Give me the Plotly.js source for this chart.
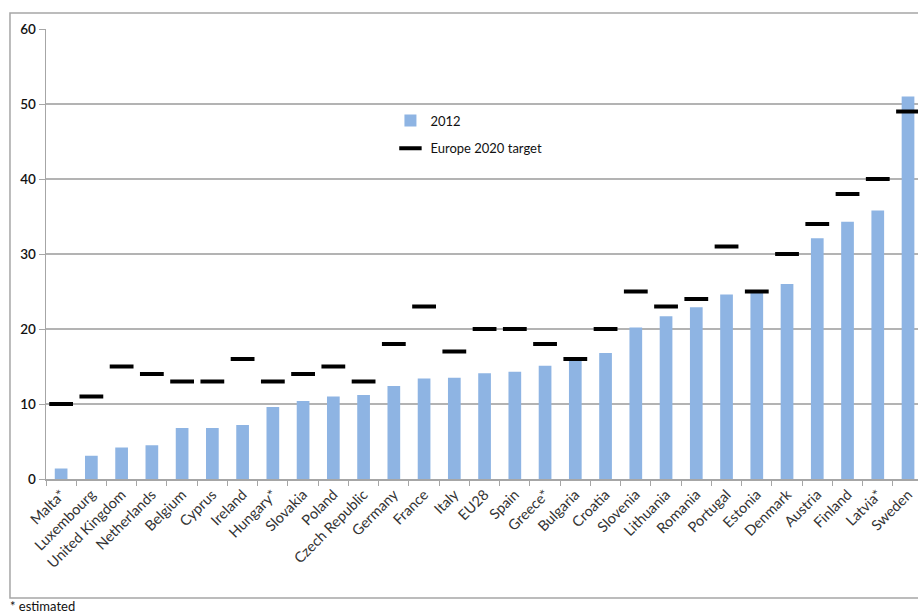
<!DOCTYPE html>
<html>
<head>
<meta charset="utf-8">
<script src="https://cdn.plot.ly/plotly-3.0.1.min.js"></script>
<style>html,body{margin:0;padding:0;background:#fff;}#chart{width:918px;height:616px;}</style>
</head>
<body>
<div id="chart"></div>
<script>
const countries = ["Malta*","Luxembourg","United Kingdom","Netherlands","Belgium","Cyprus","Ireland","Hungary*","Slovakia","Poland","Czech Republic","Germany","France","Italy","EU28","Spain","Greece*","Bulgaria","Croatia","Slovenia","Lithuania","Romania","Portugal","Estonia","Denmark","Austria","Finland","Latvia*","Sweden"];
const share2012 = [1.4,3.1,4.2,4.5,6.8,6.8,7.2,9.6,10.4,11.0,11.2,12.4,13.4,13.5,14.1,14.3,15.1,15.9,16.8,20.2,21.7,22.9,24.6,25.2,26.0,32.1,34.3,35.8,51.0];
const target2020 = [10,11,15,14,13,13,16,13,14,15,13,18,23,17,20,20,18,16,20,25,23,24,31,25,30,34,38,40,49];
const yTicks = [0,10,20,30,40,50,60];

const fontFam = "Lato, 'Open Sans', 'Liberation Sans', sans-serif";

const traces = [
  {type: "bar", name: "2012", x: countries, y: share2012, marker: {color: "#8eb4e3"}, width: 0.42, legendgroup: "a"},
  {type: "scatter", mode: "markers", name: "Europe 2020 target", x: countries, y: target2020,
   marker: {symbol: "line-ew", size: 17, color: "#000", line: {width: 4, color: "#000"}}, legendgroup: "b"}
];

const layout = {
  width: 918, height: 616,
  margin: {l: 46, r: 0, t: 29, b: 137},
  paper_bgcolor: "#fff", plot_bgcolor: "#fff",
  font: {family: fontFam, size: 13, color: "#222"},
  showlegend: true,
  legend: {x: 0.395, y: 0.83, xanchor: "left", yanchor: "top", bgcolor: "rgba(0,0,0,0)",
    font: {family: fontFam, size: 13, color: "#111"}, tracegroupgap: 8, traceorder: "grouped"},
  xaxis: {
    type: "category", range: [-0.5, 28.33],
    tickangle: -45,
    ticks: "outside", tickson: "boundaries", ticklen: 5, tickcolor: "#a6a6a6",
    showline: true, linecolor: "#a6a6a6", linewidth: 1.5, showgrid: false,
    tickfont: {family: fontFam, size: 14.5, color: "#333"}
  },
  yaxis: {
    range: [0, 60], tickvals: yTicks, ticktext: yTicks.map(String),
    ticks: "outside", ticklen: 6, tickcolor: "#a6a6a6",
    showline: true, linecolor: "#a6a6a6", linewidth: 1.5,
    showgrid: true, gridcolor: "#b3b3b3", gridwidth: 1.3, zeroline: false,
    tickfont: {family: fontFam, size: 13.5, color: "#111", weight: 600}
  },
  shapes: [
    {type: "rect", xref: "paper", yref: "paper", x0: -0.0413, x1: 1.02, y0: -0.2644, y1: 1.0356,
     line: {color: "#a6a6a6", width: 1.5}, fillcolor: "rgba(0,0,0,0)", layer: "below"}
  ],
  annotations: [
    {xref: "paper", yref: "paper", x: -0.0436, y: -0.282, xanchor: "left", yanchor: "middle",
     text: "* estimated", showarrow: false, font: {family: fontFam, size: 13, color: "#111"}}
  ]
};

Plotly.newPlot("chart", traces, layout, {displayModeBar: false, staticPlot: true});
</script>
</body>
</html>
